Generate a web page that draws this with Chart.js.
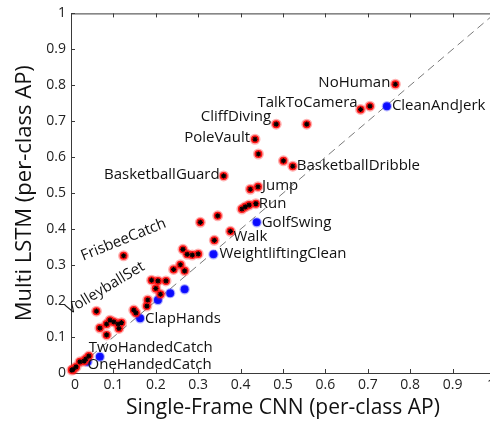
<!DOCTYPE html>
<html><head><meta charset="utf-8">
<script src="https://cdn.jsdelivr.net/npm/chart.js@4.4.0/dist/chart.umd.min.js"></script>
<style>html,body{margin:0;padding:0;background:#fff;overflow:hidden;width:490px;height:422px}
#wrap{width:502px;height:422px;position:relative}</style></head>
<body><div id="wrap"><canvas id="c" width="502" height="422"></canvas></div>
<script>
// Single-Frame CNN AP (x) vs Multi LSTM AP (y)
const redX = [0.005,0.002,0.012,0.021,0.031,0.035,0.042,0.060,0.068,0.084,0.092,0.101,0.111,0.119,0.113,0.084,0.124,0.148,0.153,0.179,0.181,0.200,0.211,0.190,0.205,0.224,0.242,0.258,0.268,0.264,0.274,0.286,0.300,0.305,0.346,0.338,0.376,0.403,0.411,0.420,0.436,0.423,0.441,0.360,0.434,0.442,0.484,0.501,0.523,0.556,0.683,0.705,0.765];
const redY = [0.010,0.008,0.017,0.031,0.033,0.039,0.047,0.172,0.125,0.136,0.147,0.142,0.136,0.140,0.124,0.106,0.326,0.175,0.167,0.186,0.203,0.235,0.219,0.258,0.256,0.256,0.288,0.301,0.284,0.344,0.330,0.328,0.331,0.419,0.437,0.369,0.394,0.456,0.462,0.467,0.471,0.511,0.518,0.548,0.650,0.609,0.692,0.590,0.575,0.692,0.733,0.742,0.803];
const blueX = [0.039,0.068,0.163,0.205,0.234,0.268,0.336,0.438,0.745];
const blueY = [0.031,0.045,0.152,0.203,0.222,0.233,0.330,0.419,0.742];
const labelNames = ['NoHuman','TalkToCamera','CleanAndJerk','CliffDiving','PoleVault','BasketballGuard','BasketballDribble','Jump','Run','GolfSwing','Walk','WeightliftingClean','ClapHands','TwoHandedCatch','OneHandedCatch','FrisbeeCatch','VolleyballSet'];
const labelX = [0.765,0.683,0.745,0.484,0.434,0.360,0.523,0.441,0.436,0.438,0.376,0.336,0.163,0.068,0.039,0.124,0.060];
const labelY = [0.803,0.733,0.742,0.692,0.650,0.548,0.575,0.518,0.471,0.419,0.394,0.330,0.152,0.045,0.031,0.326,0.172];
const tickValues = [0,0.1,0.2,0.3,0.4,0.5,0.6,0.7,0.8,0.9,1];
const diagX = [0,1];
const diagY = [0,1];
const xTitle = 'Single-Frame CNN (per-class AP)';
const yTitle = 'Multi LSTM (per-class AP)';

// label placement (pixel offsets from anchor point)
const labelStyle = {
  NoHuman:{align:'right',dx:-5,dy:-2},
  TalkToCamera:{align:'right',dx:-3,dy:-7},
  CleanAndJerk:{align:'left',dx:5,dy:0},
  CliffDiving:{align:'right',dx:-5,dy:-7},
  PoleVault:{align:'right',dx:-5,dy:-2},
  BasketballGuard:{align:'right',dx:-4,dy:-1},
  BasketballDribble:{align:'left',dx:4,dy:0},
  Jump:{align:'left',dx:4,dy:-1},
  Run:{align:'left',dx:3,dy:0},
  GolfSwing:{align:'left',dx:5,dy:0},
  Walk:{align:'left',dx:3,dy:5},
  WeightliftingClean:{align:'left',dx:6,dy:-1},
  ClapHands:{align:'left',dx:5,dy:0},
  TwoHandedCatch:{align:'left',dx:-11,dy:-9},
  OneHandedCatch:{align:'left',dx:0,dy:3},
  FrisbeeCatch:{align:'center',dx:0,dy:-16,rot:-22},
  VolleyballSet:{align:'center',dx:9,dy:-23,rot:-31}
};

const pts = (xs, ys) => xs.map((v,i)=>({x:v,y:ys[i]}));
const FONT = "'Open Sans', sans-serif";
const fmt = v => String(Math.round(v*10)/10);

const framePlugin = {
  id:'frame',
  beforeDatasetsDraw(chart){
    const {ctx, chartArea:{left,right,top,bottom}, scales:{x,y}} = chart;
    ctx.save();
    ctx.strokeStyle = '#3a3a3a'; ctx.lineWidth = 1;
    ctx.beginPath();
    ctx.moveTo(left, top+0.5); ctx.lineTo(right, top+0.5);
    ctx.moveTo(right-0.5, top); ctx.lineTo(right-0.5, bottom);
    tickValues.forEach(v=>{
      const px = Math.round(x.getPixelForValue(v))+0.5;
      ctx.moveTo(px,bottom); ctx.lineTo(px,bottom-4);
      ctx.moveTo(px,top); ctx.lineTo(px,top+4);
      const py = Math.round(y.getPixelForValue(v))+0.5;
      ctx.moveTo(left,py); ctx.lineTo(left+4,py);
      ctx.moveTo(right,py); ctx.lineTo(right-4,py);
    });
    ctx.stroke();
    ctx.restore();
  },
  afterDatasetsDraw(chart){
    const {ctx, scales:{x,y}} = chart;
    ctx.save();
    ctx.fillStyle = '#111';
    ctx.font = "15px " + FONT;
    ctx.textBaseline = 'middle';
    labelNames.forEach((name,i)=>{
      const s = labelStyle[name];
      const px = x.getPixelForValue(labelX[i]) + s.dx;
      const py = y.getPixelForValue(labelY[i]) + s.dy;
      ctx.save();
      ctx.translate(px,py);
      if (s.rot) ctx.rotate(s.rot*Math.PI/180);
      ctx.textAlign = s.align;
      ctx.fillText(name,0,0);
      ctx.restore();
    });
    ctx.restore();
  }
};

new Chart(document.getElementById('c'), {
  type:'scatter',
  data:{datasets:[
    {data:pts(redX,redY), pointStyle:'star', pointRadius:2.6, pointBorderColor:'#000', borderColor:'#000', pointBorderWidth:1.2, pointBackgroundColor:'rgba(0,0,0,0)', clip:false},
    {data:pts(redX,redY), pointStyle:'circle', pointRadius:4, pointBackgroundColor:'#ff1010', pointBorderColor:'rgba(255,30,30,0.35)', pointBorderWidth:3, clip:false},
    {data:pts(blueX,blueY), pointStyle:'circle', pointRadius:4, pointBackgroundColor:'#0a0aff', pointBorderColor:'rgba(40,40,255,0.35)', pointBorderWidth:2.4, clip:false},
    {type:'line', data:pts(diagX,diagY), borderColor:'#7a7a7a', borderWidth:1, borderDash:[8,5], pointRadius:0, fill:false}
  ]},
  options:{
    responsive:false, animation:false, devicePixelRatio:1,
    layout:{padding:{top:13,right:5,left:0,bottom:0}},
    plugins:{legend:{display:false}, tooltip:{enabled:false}},
    scales:{
      x:{type:'linear', min:0, max:1,
        afterFit(s){ s.height = 49; },
        afterBuildTicks(s){ s.ticks = tickValues.map(v=>({value:v})); },
        grid:{display:false, drawTicks:false},
        border:{display:true, color:'#3a3a3a', width:1},
        ticks:{padding:4, color:'#222', font:{family:FONT, size:14}, maxRotation:0, autoSkip:false, align:'inner', callback:fmt},
        title:{display:true, text:xTitle, color:'#111', font:{family:FONT, size:21}, padding:{top:0,bottom:1}}
      },
      y:{type:'linear', min:0, max:1,
        afterFit(s){ s.width = 71; },
        afterBuildTicks(s){ s.ticks = tickValues.map(v=>({value:v})); },
        grid:{display:false, drawTicks:false},
        border:{display:true, color:'#3a3a3a', width:1},
        ticks:{padding:5, color:'#222', font:{family:FONT, size:14}, autoSkip:false, callback:fmt},
        title:{display:true, text:yTitle, color:'#111', font:{family:FONT, size:22}, padding:{top:12,bottom:0}}
      }
    }
  },
  plugins:[framePlugin]
});
</script></body></html>
